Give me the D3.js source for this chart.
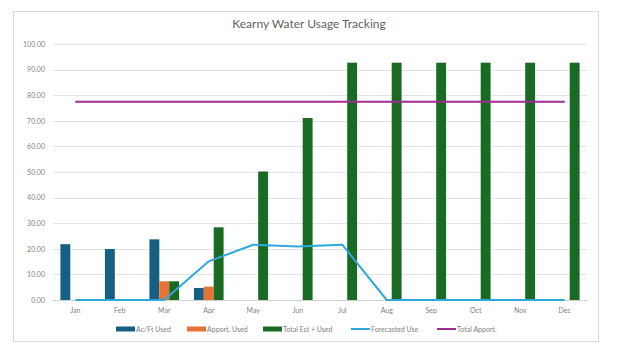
<!DOCTYPE html>
<html><head><meta charset="utf-8">
<script src="https://cdn.jsdelivr.net/npm/d3@7"></script>
<style>body{margin:0;background:#fff;}svg{display:block;font-family:Lato,"Open Sans",sans-serif;}</style>
</head><body><svg id="c" width="618" height="358"></svg>
<script>
const months = ["Jan","Feb","Mar","Apr","May","Jun","Jul","Aug","Sep","Oct","Nov","Dec"];
const acFtUsed = [21.8, 19.9, 23.7, 4.7, 0, 0, 0, 0, 0, 0, 0, 0];
const apportUsed = [0, 0, 7.3, 5.2, 0, 0, 0, 0, 0, 0, 0, 0];
const totalEstUsed = [0, 0, 7.3, 28.4, 50.2, 71.1, 92.7, 92.7, 92.7, 92.7, 92.7, 92.7];
const forecastedUse = [0, 0, 0, 15.1, 21.6, 20.9, 21.6, 0, 0, 0, 0, 0];
const totalApport = [77.4, 77.4, 77.4, 77.4, 77.4, 77.4, 77.4, 77.4, 77.4, 77.4, 77.4, 77.4];
const yTicks = [0,10,20,30,40,50,60,70,80,90,100];
const barSeries = [
  {name:"Ac/Ft Used", values:acFtUsed, color:"#156082"},
  {name:"Apport. Used", values:apportUsed, color:"#E97132"},
  {name:"Total Est + Used", values:totalEstUsed, color:"#196B24"}
];
const lineSeries = [
  {name:"Forecasted Use", values:forecastedUse, color:"#2FA8DC"},
  {name:"Total Apport.", values:totalApport, color:"#A02B93"}
];

const svg = d3.select("#c");
svg.append("rect").attr("x",13.5).attr("y",11.5).attr("width",585).attr("height",330)
  .attr("fill","#fff").attr("stroke","#d9d9d9").attr("stroke-width",1);

const x = d3.scaleBand().domain(months).range([53,587]);
const x1 = d3.scaleBand().domain(barSeries.map(d=>d.name)).range([0,x.bandwidth()]).paddingOuter(0.75);
const y = d3.scaleLinear().domain([0,100]).range([300,44]);

svg.append("text").attr("x",309).attr("y",28).attr("text-anchor","middle")
  .attr("font-size",12).attr("fill","#636363").text("Kearny Water Usage Tracking");

// grid
svg.append("g").selectAll("line").data(yTicks).join("line")
  .attr("x1",53).attr("x2",587).attr("y1",d=>Math.round(y(d))+0.5).attr("y2",d=>Math.round(y(d))+0.5)
  .attr("stroke","#e3e3e3").attr("stroke-width",1);

// y axis
const yAxis = svg.append("g").attr("transform","translate(47,0)")
  .call(d3.axisLeft(y).tickValues(yTicks).tickFormat(d3.format(".2f")).tickSize(0).tickPadding(2));
yAxis.select(".domain").remove();
yAxis.selectAll("text").attr("font-size",7).attr("fill","#7f7f7f").attr("font-family","Lato,sans-serif");

// bars
const groups = svg.append("g").selectAll("g").data(barSeries).join("g").attr("fill",d=>d.color);
groups.selectAll("rect").data(s=>s.values.map((v,i)=>({s:s.name,v,m:months[i]}))).join("rect")
  .attr("x",d=>x(d.m)+x1(d.s)).attr("width",x1.bandwidth())
  .attr("y",d=>y(d.v)).attr("height",d=>y(0)-y(d.v));

// x axis
const xAxis = svg.append("g").attr("transform","translate(0,300)")
  .call(d3.axisBottom(x).tickSize(0).tickPadding(8));
xAxis.select(".domain").attr("stroke","#d0d0d0");
xAxis.selectAll("text").attr("font-size",7).attr("fill","#7f7f7f").attr("font-family","Lato,sans-serif");

// lines
const line = d3.line().x((d,i)=>x(months[i])+x.bandwidth()/2).y(d=>y(d));
svg.append("g").selectAll("path").data(lineSeries).join("path")
  .attr("d",d=>line(d.values)).attr("fill","none").attr("stroke",d=>d.color)
  .attr("stroke-width",2).attr("stroke-linejoin","round");

// legend
const legendItems = [
  {name:"Ac/Ft Used", color:"#156082", type:"bar", x:116},
  {name:"Apport. Used", color:"#E97132", type:"bar", x:187},
  {name:"Total Est + Used", color:"#196B24", type:"bar", x:263},
  {name:"Forecasted Use", color:"#2FA8DC", type:"line", x:351},
  {name:"Total Apport.", color:"#A02B93", type:"line", x:437}
];
const lg = svg.append("g").selectAll("g").data(legendItems).join("g")
  .attr("transform",d=>`translate(${d.x},329)`);
lg.each(function(d){
  const g = d3.select(this);
  if(d.type==="bar") g.append("rect").attr("x",0).attr("y",-2.5).attr("width",19).attr("height",5).attr("fill",d.color);
  else g.append("line").attr("x1",0).attr("x2",19).attr("y1",0).attr("y2",0).attr("stroke",d.color).attr("stroke-width",2);
  g.append("text").attr("x",20).attr("y",2.5).attr("font-size",7).attr("fill","#7f7f7f").text(d.name);
});
</script></body></html>
